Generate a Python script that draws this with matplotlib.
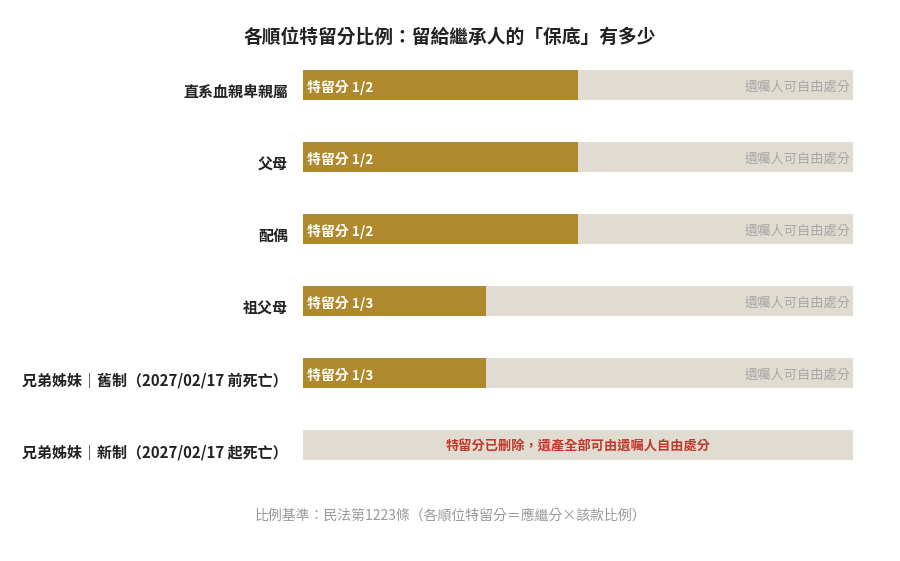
import matplotlib
matplotlib.use("Agg")
import matplotlib.pyplot as plt

plt.rcParams['font.family'] = ['Noto Sans CJK TC', 'DejaVu Sans']

# data
heirs = ["直系血親卑親屬", "父母", "配偶", "祖父母",
         "兄弟姊妹｜舊制（2027/02/17 前死亡）",
         "兄弟姊妹｜新制（2027/02/17 起死亡）"]
shares = [1/2, 1/2, 1/2, 1/3, 1/3, 0]
share_labels = ["特留分 1/2", "特留分 1/2", "特留分 1/2", "特留分 1/3", "特留分 1/3", ""]
free_label = "遺囑人可自由處分"
removed_note = "特留分已刪除，遺產全部可由遺囑人自由處分"

GOLD = "#B0882E"
GREY = "#E0DCD2"

fig = plt.figure(figsize=(9, 5.61), dpi=100)
W, H = 900, 561
ax = fig.add_axes([303 / W, 1 - 481 / H, 550 / W, 432 / H])

y = list(range(len(heirs)))
bh = 30 / 72
dy = 2 / 72  # text sits slightly below bar centre

ax.barh(y, [1] * len(heirs), height=bh, color=GREY, edgecolor="none")
ax.barh(y, shares, height=bh, color=GOLD, edgecolor="none")

for i, (s, lab) in enumerate(zip(shares, share_labels)):
    if s > 0:
        ax.text(0.008, i + dy, lab, ha="left", va="center", color="white",
                fontsize=10, fontweight="bold")
        ax.text(0.995, i + dy, free_label, ha="right", va="center", color="#A8A8A8",
                fontsize=9.5)
    else:
        ax.text(0.5, i + dy, removed_note, ha="center", va="center", color="#C0392B",
                fontsize=9.5, fontweight="bold")

ax.set_xlim(0, 1)
ax.set_ylim(5.5, -0.5)
ax.axis("off")

for i, name in enumerate(heirs):
    ax.text(-15 / 550, i + 0.1, name, ha="right", va="center", color="#222222",
            fontsize=10.8, fontweight="bold")

fig.text(450 / W, 1 - 37 / H, "各順位特留分比例：留給繼承人的「保底」有多少",
         ha="center", va="center", fontsize=13.5, fontweight="bold", color="#222222")
fig.text(450 / W, 1 - 516 / H, "比例基準：民法第1223條（各順位特留分＝應繼分×該款比例）",
         ha="center", va="center", fontsize=10, color="#999999")

fig.savefig("out.png", dpi=100, facecolor="white")
